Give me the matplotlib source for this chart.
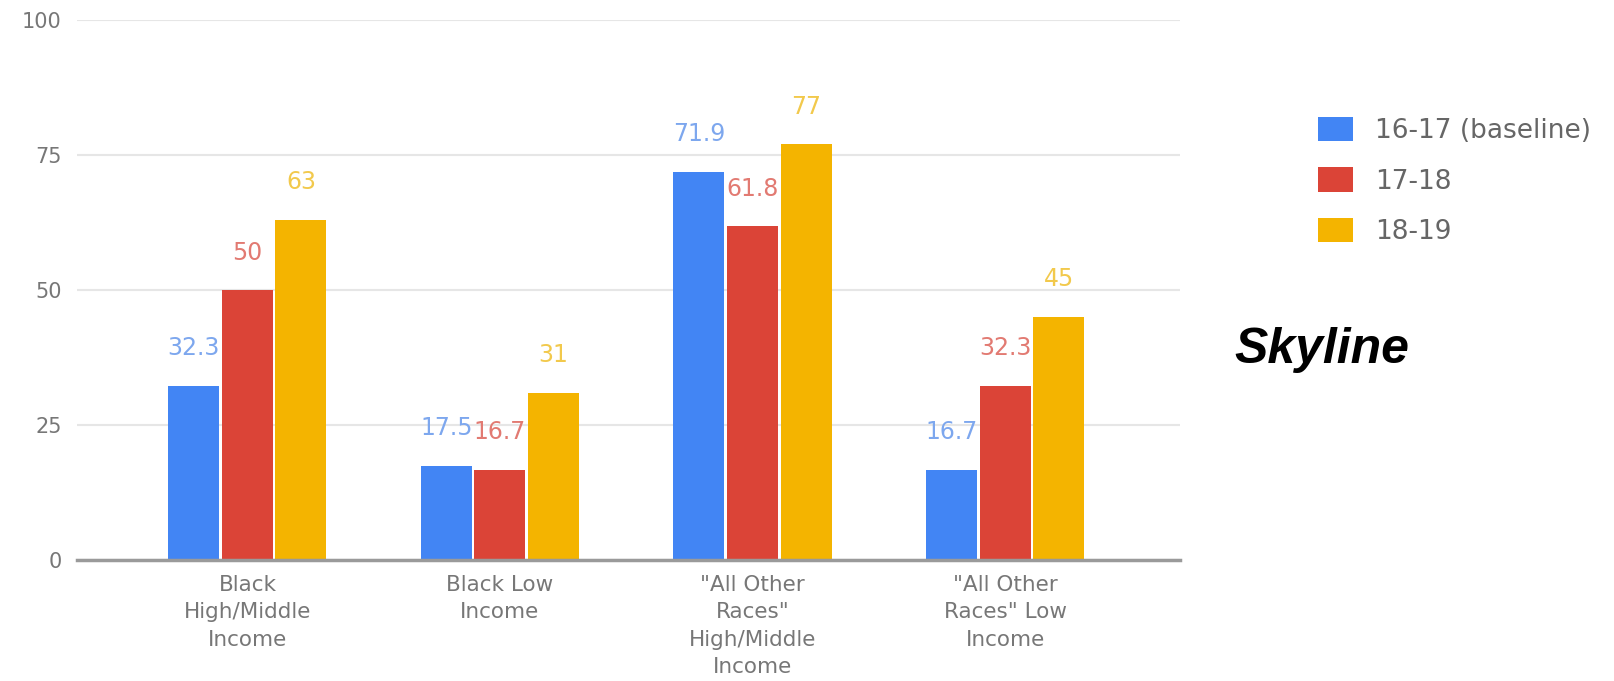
import matplotlib
matplotlib.use("Agg")
import matplotlib.pyplot as plt
import numpy as np
from matplotlib.patches import Patch

categories = ["Black\nHigh/Middle\nIncome", "Black Low\nIncome",
              "\"All Other\nRaces\"\nHigh/Middle\nIncome", "\"All Other\nRaces\" Low\nIncome"]
series_names = ["16-17 (baseline)", "17-18", "18-19"]
s1617 = [32.3, 17.5, 71.9, 16.7]
s1718 = [50, 16.7, 61.8, 32.3]
s1819 = [63, 31, 77, 45]
yticks = [0, 25, 50, 75, 100]

bar_colors = ["#4285F4", "#DB4437", "#F4B400"]
label_colors = ["#7da7ee", "#e27a72", "#f2c94c"]

fig = plt.figure(figsize=(16.15, 6.81), dpi=100)
ax = fig.add_axes([77/1615, 1-560/681, (1180-77)/1615, 540/681])

x = np.arange(len(categories))
offsets = [-0.212, 0.0, 0.212]
width = 0.202
for vals, off, c, lc in zip([s1617, s1718, s1819], offsets, bar_colors, label_colors):
    ax.bar(x + off, vals, width=width, color=c, zorder=3)
    for xi, v in zip(x, vals):
        ax.annotate(f"{v:g}", (xi + off, v), xytext=(0, 27), textcoords="offset points",
                    ha="center", va="center", fontsize=17, color=lc, family="DejaVu Sans", zorder=4)

ax.set_xlim(-0.675, 3.693)
ax.set_ylim(0, 100)
ax.set_yticks(yticks)
ax.set_yticklabels([str(t) for t in yticks], fontsize=15, color="#777777", family="DejaVu Sans")
ax.yaxis.grid(True, color="#e6e6e6", linewidth=1.5, zorder=0)
ax.set_axisbelow(True)
for s in ["top", "right", "left"]:
    ax.spines[s].set_visible(False)
ax.spines["bottom"].set_color("#9a9a9a")
ax.spines["bottom"].set_linewidth(2.5)
ax.spines["bottom"].set_zorder(5)
ax.tick_params(axis="y", length=0, pad=11)
ax.set_xticks(x)
ax.set_xticklabels(categories, fontsize=15.5, color="#777777", family="DejaVu Sans",
                   linespacing=1.45)
ax.tick_params(axis="x", length=0, pad=11)

handles = [Patch(facecolor=c, edgecolor="none") for c in bar_colors]
leg = fig.legend(handles, series_names, loc="upper left",
                 bbox_to_anchor=(1318/1615, 1-117/681), frameon=False,
                 prop={"family": "DejaVu Sans", "size": 19},
                 handlelength=1.32, handleheight=1.05, handletextpad=0.85,
                 labelspacing=0.88, borderpad=0, borderaxespad=0)
for t in leg.get_texts():
    t.set_color("#666666")

fig.text(1234/1615, 1-363/681, "Skyline", fontsize=36, fontweight="bold", fontstyle="italic",
         family="Liberation Sans", color="black", ha="left", va="baseline")

fig.savefig("out.png", dpi=100)
